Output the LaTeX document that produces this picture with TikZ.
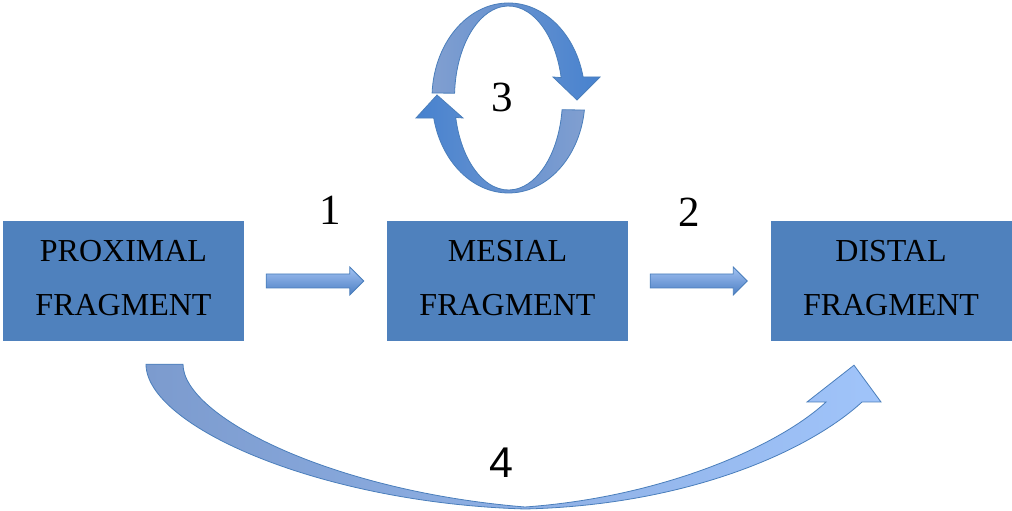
\documentclass[tikz,border=0pt]{standalone}
\usepackage{fontspec}
\setmainfont{Liberation Serif}
\newfontfamily\digitsans{Liberation Sans}
\usetikzlibrary{calc}

\definecolor{boxblue}{HTML}{4F81BD}
\definecolor{edgeblue}{HTML}{4A7EBB}
\definecolor{arrowlight}{HTML}{A2C2F2}
\definecolor{arrowdark}{HTML}{4D7FC4}
\definecolor{ringgrey}{HTML}{819FD0}
\definecolor{ringsat}{HTML}{4782CF}
\definecolor{bigleft}{HTML}{7C9BCE}
\definecolor{bigmid}{HTML}{4270B6}
\definecolor{bigright}{HTML}{A0C4FA}

\tikzset{
  fragbox/.style={rectangle, fill=boxblue, draw=none, minimum width=241pt,
    minimum height=120pt, inner sep=0pt, align=center, text depth=6pt,
    font=\rmfamily\fontsize{32}{54}\selectfont},
  steplabel/.style={inner sep=0pt, font=\rmfamily\fontsize{43}{50}\selectfont},
  flatarrow/.style={draw=edgeblue, line width=0.8pt, line join=miter,
    top color=arrowlight, bottom color=arrowdark},
  ringfwd/.style={draw=edgeblue, line width=0.8pt,
    left color=ringgrey, right color=ringsat},
  ringback/.style={draw=edgeblue, line width=0.8pt,
    left color=ringsat, right color=ringgrey},
  bigarrow/.style={draw=edgeblue, line width=0.8pt,
    left color=bigleft, middle color=bigmid, right color=bigright}
}

% straight block arrow from node #1 to node #2
\newcommand\fatarrow[2]{%
  \coordinate (fa-s) at ($(#1.east)+(22,0)$);
  \coordinate (fa-e) at ($(#2.west)+(-23,0)$);
  \path[flatarrow] ($(fa-s)+(0,7)$) -- ($(fa-e)+(-14,7)$) -- ($(fa-e)+(-14,14)$)
    -- (fa-e) -- ($(fa-e)+(-14,-14)$) -- ($(fa-e)+(-14,-7)$)
    -- ($(fa-s)+(0,-7)$) -- cycle;}

\begin{document}
\begin{tikzpicture}[x=1pt, y=1pt]
\useasboundingbox (0,0) rectangle (1012,511);

% the three fragments
\node[fragbox] (P) at (123.5,230) {PROXIMAL\\FRAGMENT};
\node[fragbox] (M) at (507.5,230) {MESIAL\\FRAGMENT};
\node[fragbox] (D) at (891,230) {DISTAL\\FRAGMENT};

% steps 1 and 2
\fatarrow{P}{M}
\fatarrow{M}{D}
\node[steplabel] (n1) at (330,300.5) {1};
\node[steplabel] (n2) at (689,299) {2};

% step 3: the two half-ring arrows above the mesial fragment
\coordinate (c) at (508.5,413);
\path[ringfwd] ($(c)+(177:76.5pt and 95pt)$)
    arc[start angle=177, end angle=12.8, x radius=76.5pt, y radius=95pt]
    -- (600,434) -- (577,411) -- (553,434)
    -- ($(c)+(12.8:54pt and 92pt)$)
    arc[start angle=12.8, end angle=177, x radius=54pt, y radius=92pt]
    -- cycle;
\path[ringback] ($(c)+(-7.3:76.5pt and 95pt)$)
    arc[start angle=-7.3, end angle=-167.8, x radius=76.5pt, y radius=95pt]
    -- (416,393) -- (437,416) -- (463,393)
    -- ($(c)+(-167.8:54pt and 92pt)$)
    arc[start angle=-167.8, end angle=-7.3, x radius=54pt, y radius=92pt]
    -- cycle;
\node[steplabel] (n3) at (502,414) {3};

% step 4: curved arrow from the proximal to the distal fragment
\coordinate (s4) at ($(P.south)+(22.5,-23)$);
\coordinate (t4) at ($(D.south)+(-37,-24)$);
\path[bigarrow] (s4) -- ++(37,0)
    .. controls (183,95) and (330,20) .. (525,4)
    .. controls (665,14) and (780,66) .. (826,109)
    -- (807,109) -- (t4) -- (881,109) -- (862,109)
    .. controls (810,61) and (690,6) .. (525,2)
    .. controls (320,8) and (146,85) .. (s4) -- cycle;
\node[steplabel, font=\digitsans\fontsize{43}{50}\selectfont] (n4) at (501,48.5) {4};
\end{tikzpicture}
\end{document}
